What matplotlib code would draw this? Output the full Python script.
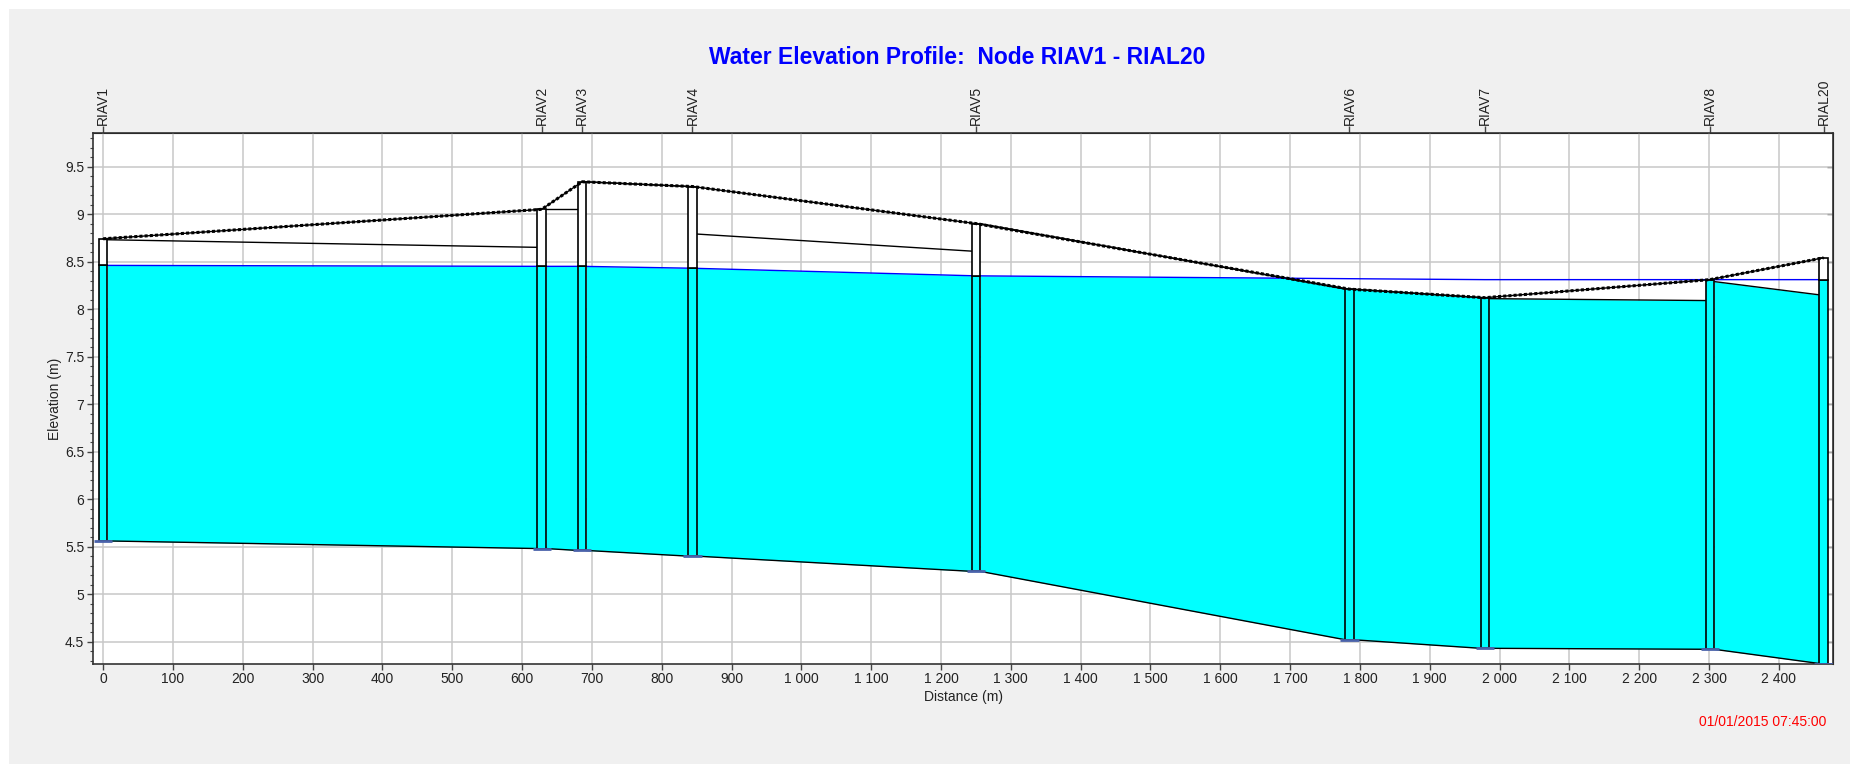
"""
Water elevation profile (SWMM style) : Node RIAV1 - RIAL20
"""
import numpy as np
import matplotlib.pyplot as plt
from matplotlib.patches import Rectangle
from matplotlib.ticker import MultipleLocator, FuncFormatter

plt.rcParams['font.family'] = ['Liberation Sans', 'DejaVu Sans']

# --- data read from the profile ---
node_names = ['RIAV1', 'RIAV2', 'RIAV3', 'RIAV4', 'RIAV5', 'RIAV6', 'RIAV7', 'RIAV8', 'RIAL20']
node_dist = [0, 628, 686, 844, 1250, 1785, 1979, 2301, 2464]          # m
node_invert = [5.56, 5.48, 5.46, 5.40, 5.24, 4.52, 4.43, 4.42, 4.27]  # m
node_rim = [8.74, 9.05, 9.34, 9.29, 8.90, 8.21, 8.12, 8.31, 8.54]     # m
node_head = [8.46, 8.45, 8.45, 8.43, 8.35, 8.32, 8.31, 8.31, 8.31]    # m

# conduit crown elevation at upstream / downstream end
link_crown_up = [8.73, 9.05, 9.34, 8.79, 8.90, 8.21, 8.11, 8.29]
link_crown_dn = [8.65, 9.05, 9.29, 8.61, 8.21, 8.12, 8.09, 8.15]

NODE_W = 12      # width of a manhole box (m)
MARK_W = 13      # half width of the invert marker (m)
CYAN = '#00ffff'

fig = plt.figure(figsize=(18.5, 7.64), dpi=100, facecolor='white')
fig.patches.append(Rectangle((9 / 1850, 0), 1, 1 - 9 / 764, transform=fig.transFigure,
                             facecolor='#f0f0f0', edgecolor='none', zorder=-10))
ax = fig.add_axes([0.0501, 0.1309, 0.9409, 0.6946])
ax.set_facecolor('white')

# conduits: water fill + crown / invert lines
for i in range(len(node_dist) - 1):
    x0 = node_dist[i] + NODE_W / 2
    x1 = node_dist[i + 1] - NODE_W / 2
    xs = np.linspace(x0, x1, 80)
    inv = np.interp(xs, [x0, x1], [node_invert[i], node_invert[i + 1]])
    crown = np.interp(xs, [x0, x1], [link_crown_up[i], link_crown_dn[i]])
    head = np.interp(xs, node_dist, node_head)
    ax.fill_between(xs, inv, np.minimum(head, crown), color=CYAN, lw=0, zorder=2)
    ax.plot([x0, x1], [node_invert[i], node_invert[i + 1]], color='black', lw=1.0, zorder=3)
    ax.plot([x0, x1], [link_crown_up[i], link_crown_dn[i]], color='black', lw=1.0, zorder=3)

# water surface
ax.plot(node_dist, node_head, color='#0000ff', lw=1.0, zorder=4)

# manholes
for x, inv, rim, h in zip(node_dist, node_invert, node_rim, node_head):
    wl = min(h, rim)
    ax.add_patch(Rectangle((x - NODE_W / 2, inv), NODE_W, wl - inv, facecolor=CYAN,
                           edgecolor='black', lw=1.2, zorder=5))
    if rim > wl:
        ax.add_patch(Rectangle((x - NODE_W / 2, wl), NODE_W, rim - wl, facecolor='white',
                               edgecolor='black', lw=1.2, zorder=5))
    ax.plot([x - MARK_W, x + MARK_W], [inv, inv], color='#4a62aa', lw=2.0,
            solid_capstyle='butt', zorder=6)

# ground line
ax.plot(node_dist, node_rim, color='black', lw=1.0, zorder=7)
ax.plot(node_dist, node_rim, color='black', lw=2.2, ls=(0, (1, 0.7)), zorder=7)

# axes
ax.set_xlim(-15, 2478)
ax.set_ylim(4.265, 9.85)
ax.xaxis.set_major_locator(MultipleLocator(100))
ax.xaxis.set_major_formatter(FuncFormatter(lambda v, p: f'{int(round(v)):,}'.replace(',', ' ')))
ax.yaxis.set_major_locator(MultipleLocator(0.5))
ax.yaxis.set_minor_locator(MultipleLocator(0.1))
ax.yaxis.set_major_formatter(FuncFormatter(lambda v, p: f'{v:g}'))
ax.grid(True, which='major', color='#c8c8c8', lw=1.1)
ax.set_axisbelow(True)
ax.tick_params(axis='both', which='major', length=4, width=1, color='#444',
               labelsize=10, pad=2, labelcolor='#222')
ax.tick_params(axis='y', which='minor', length=2.5, width=0.8, color='#444')
for s in ax.spines.values():
    s.set_color('#333')
    s.set_linewidth(1.2)

ax.set_xlabel('Distance (m)', fontsize=10, color='#222')
ax.xaxis.set_label_coords(0.5, -0.062)
ax.xaxis.label.set_va('center')
ax.set_ylabel('Elevation (m)', fontsize=10, color='#222')
ax.yaxis.set_label_coords(-0.0217, 0.5)
ax.yaxis.label.set_va('center')

# node names on top
top = ax.secondary_xaxis('top')
top.set_xticks(node_dist, labels=node_names, rotation=90)
top.tick_params(length=5, width=1, color='#444', pad=1, labelsize=10, labelcolor='#222')

# inner ticks on the right side
right = ax.secondary_yaxis('right')
right.yaxis.set_major_locator(MultipleLocator(0.5))
right.tick_params(direction='in', length=4, width=1, color='#444', labelright=False)

fig.text(957 / 1850, 1 - 57 / 764, 'Water Elevation Profile:  Node RIAV1 - RIAL20',
         ha='center', va='center', fontsize=16.5, fontweight='bold', color='#0000ff')
fig.text(1826 / 1850, 1 - 722 / 764, '01/01/2015 07:45:00', ha='right', va='center',
         fontsize=10, color='#ff0000')

fig.savefig('out.png', dpi=100, facecolor=fig.get_facecolor())
